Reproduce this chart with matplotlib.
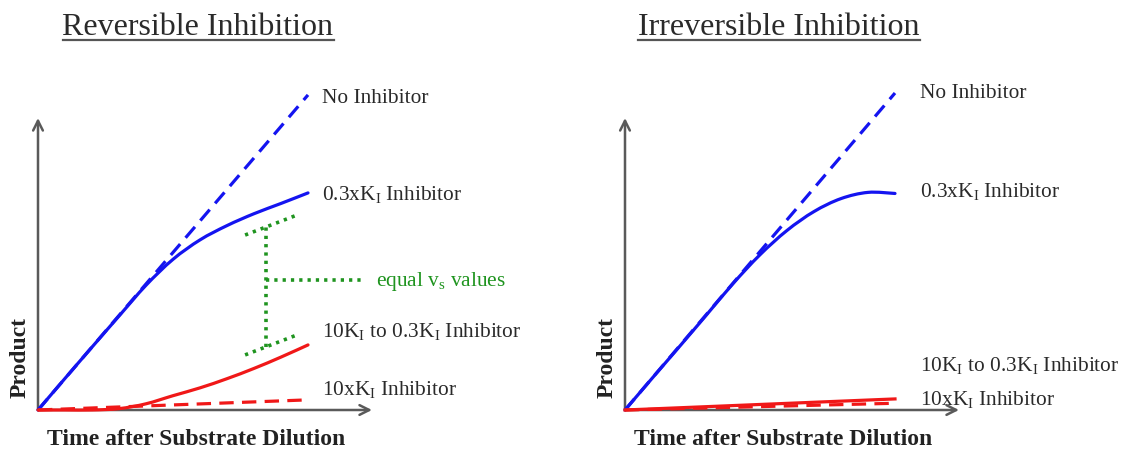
import numpy as np
import matplotlib
matplotlib.use("Agg")
import matplotlib.pyplot as plt
from matplotlib.lines import Line2D
from matplotlib.path import Path
from matplotlib.patches import PathPatch

plt.rcParams['font.family'] = ['Liberation Serif', 'DejaVu Serif']
plt.rcParams['mathtext.fontset'] = 'custom'
plt.rcParams['mathtext.rm'] = 'Liberation Serif'
plt.rcParams['mathtext.it'] = 'Liberation Serif:italic'

# progress curves, product vs time (arbitrary units)
time = [0, 1, 2, 3, 4, 5, 6, 7, 8, 9, 10]
line_t = [0, 10]

rev_none = [0, 11.67]
rev_low = [0, 1.17, 2.33, 3.48, 4.62, 5.58, 6.30, 6.83, 7.27, 7.65, 8.04]
rev_diluted = [0, 0, 0, 0.05, 0.23, 0.53, 0.82, 1.16, 1.54, 1.96, 2.41]
rev_high_t = [0, 9.85]
rev_high = [0, 0.37]

irr_none = [0, 11.74]
irr_low = [0, 1.17, 2.33, 3.50, 4.68, 5.75, 6.65, 7.35, 7.83, 8.06, 8.02]
irr_diluted = [0, 0.41]
irr_high = [0, 0.25]

# "equal vs values" bracket on the reversible panel
brk_tick_t = [7.67, 9.59]
brk_top = [6.48, 7.22]
brk_bottom = [2.04, 2.78]
brk_stem_t = [8.44, 8.44]
brk_stem = [2.34, 6.78]
brk_arm_t = [8.44, 12.1]
brk_arm = [4.81, 4.81]

labels = ['No Inhibitor', r'0.3xK$_\mathrm{I}$ Inhibitor',
          r'10K$_\mathrm{I}$ to 0.3K$_\mathrm{I}$ Inhibitor', r'10xK$_\mathrm{I}$ Inhibitor']
rev_label_y = [11.56, 7.96, 2.90, 0.74]
irr_label_y = [11.74, 8.10, 1.65, 0.40]

W, H = 1122, 451
fig = plt.figure(figsize=(W / 100, H / 100), dpi=100)

blue = '#1414f0'
red = '#f01818'
green = '#1f941f'
grey = '#5a5a5a'
text_c = '#2a2a2a'
px = 27.0  # pixels per data unit
lab_size = 15.4


def make_axes(x0):
    # origin at pixel (x0, 410), axis arrows 334 px wide / 292 px tall
    ax = fig.add_axes([x0 / W, (H - 410) / H, 334 / W, 292 / H])
    ax.set_xlim(0, 334 / px)
    ax.set_ylim(0, 292 / px)
    ax.axis('off')
    arrow = dict(arrowstyle='->,head_length=0.7,head_width=0.35', color=grey, lw=1.8,
                 shrinkA=0, shrinkB=0, mutation_scale=10)
    ax.annotate('', xy=(334 / px, 0), xytext=(0, 0), arrowprops=arrow, zorder=1)
    ax.annotate('', xy=(0, 292 / px), xytext=(0, 0), arrowprops=arrow, zorder=1)
    ax.text(5.85, -1.3, 'Time after Substrate Dilution', fontsize=17, fontweight='bold',
            color='#222222', ha='center', va='baseline')
    ax.text(-0.67, 1.96, 'Product', fontsize=17, fontweight='bold', color='#222222',
            rotation=90, ha='center', va='center')
    return ax


def smooth_curve(ax, x, y, color):
    # Catmull-Rom segments turned into cubic Bezier pieces through every point
    p = np.column_stack([x, y]).astype(float)
    ext = np.vstack([p[0], p, p[-1]])
    verts = [p[0]]
    codes = [Path.MOVETO]
    for i in range(1, len(ext) - 2):
        c1 = ext[i] + (ext[i + 1] - ext[i - 1]) / 6
        c2 = ext[i + 1] - (ext[i + 2] - ext[i]) / 6
        verts += [c1, c2, ext[i + 1]]
        codes += [Path.CURVE4] * 3
    patch = PathPatch(Path(verts, codes), fill=False, edgecolor=color, lw=lw,
                      capstyle='round', clip_on=False, zorder=3)
    ax.add_patch(patch)


dash = (4.5, 2.6)
lw = 2.3

ax1 = make_axes(38)
ax1.plot(line_t, rev_none, color=blue, lw=lw, dashes=dash, clip_on=False, zorder=3)
smooth_curve(ax1, time, rev_low, blue)
smooth_curve(ax1, time, rev_diluted, red)
ax1.plot(rev_high_t, rev_high, color=red, lw=lw, dashes=dash, clip_on=False, zorder=3)

dots = dict(color=green, lw=2.6, linestyle=(0, (0.9, 1.4)), clip_on=False, zorder=2)
ax1.plot(brk_tick_t, brk_top, **dots)
ax1.plot(brk_tick_t, brk_bottom, **dots)
ax1.plot(brk_stem_t, brk_stem, **dots)
ax1.plot(brk_arm_t, brk_arm, **dots)
ax1.text(12.52, brk_arm[0] - 0.2, r'equal v$_\mathrm{s}$ values', fontsize=lab_size,
         color=green, ha='left', va='baseline')
for lab, y in zip(labels, rev_label_y):
    ax1.text(10.52, y - 0.2, lab, fontsize=lab_size, color=text_c, ha='left', va='baseline')

ax2 = make_axes(625)
ax2.plot(line_t, irr_none, color=blue, lw=lw, dashes=dash, clip_on=False, zorder=3)
smooth_curve(ax2, time, irr_low, blue)
ax2.plot(line_t, irr_high, color=red, lw=lw, dashes=dash, clip_on=False, zorder=3)
ax2.plot(line_t, irr_diluted, color=red, lw=lw, clip_on=False, zorder=3)
for lab, y in zip(labels, irr_label_y):
    ax2.text(10.93, y - 0.2, lab, fontsize=lab_size, color=text_c, ha='left', va='baseline')

# underlined panel titles
renderer = fig.canvas.get_renderer()
for cx, title in [(198, 'Reversible Inhibition'), (779, 'Irreversible Inhibition')]:
    t = fig.text(cx / W, (H - 35) / H, title, fontsize=23, color=text_c,
                 ha='center', va='baseline')
    bb = t.get_window_extent(renderer)
    fig.add_artist(Line2D([bb.x0 / W, bb.x1 / W], [(H - 39.5) / H] * 2,
                          color='#555555', lw=1.6))

fig.savefig('out.png', dpi=100)
